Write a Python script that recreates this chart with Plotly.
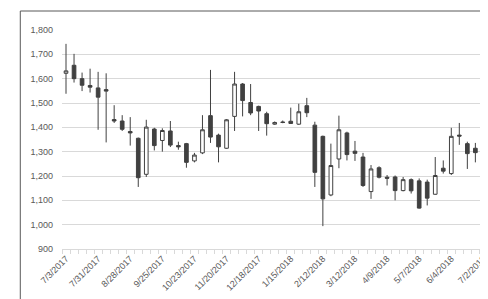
import plotly.graph_objects as go

weeks = ["7/3/2017","7/10/2017","7/17/2017","7/24/2017","7/31/2017","8/7/2017","8/14/2017","8/21/2017",
         "8/28/2017","9/4/2017","9/11/2017","9/18/2017","9/25/2017","10/2/2017","10/9/2017","10/16/2017",
         "10/23/2017","10/30/2017","11/6/2017","11/13/2017","11/20/2017","11/27/2017","12/4/2017","12/11/2017",
         "12/18/2017","12/25/2017","1/1/2018","1/8/2018","1/15/2018","1/22/2018","1/29/2018","2/5/2018",
         "2/12/2018","2/19/2018","2/26/2018","3/5/2018","3/12/2018","3/19/2018","3/26/2018","4/2/2018",
         "4/9/2018","4/16/2018","4/23/2018","4/30/2018","5/7/2018","5/14/2018","5/21/2018","5/28/2018",
         "6/4/2018","6/11/2018","6/18/2018","6/25/2018","7/2/2018"]

open_ = [1622,1655,1600,1572,1562,1555,1432,1426,1383,1355,1207,1393,1346,1385,1325,1333,
         1262,1295,1448,1368,1314,1445,1578,1502,1486,1456,1413,1422,1425,1413,1489,1409,
         1363,1122,1270,1377,1302,1278,1136,1234,1195,1196,1140,1185,1180,1175,1125,1232,
         1210,1368,1333,1314,1300]
close = [1632,1600,1573,1565,1524,1549,1426,1392,1377,1193,1401,1325,1387,1327,1320,1256,
         1286,1390,1360,1320,1431,1578,1510,1459,1467,1415,1420,1420,1416,1464,1460,1215,
         1106,1243,1390,1288,1293,1161,1229,1195,1191,1140,1185,1139,1068,1109,1202,1220,
         1363,1364,1292,1296,1240]
high = [1743,1702,1625,1641,1628,1622,1491,1450,1442,1358,1431,1398,1396,1426,1341,1336,
        1295,1450,1636,1374,1434,1628,1582,1578,1489,1464,1424,1428,1481,1497,1521,1423,
        1366,1333,1448,1382,1344,1295,1245,1240,1204,1202,1196,1190,1190,1185,1278,1264,
        1398,1418,1341,1336,1305]
low = [1538,1584,1549,1543,1390,1338,1418,1385,1325,1155,1196,1305,1300,1319,1308,1234,
       1256,1290,1336,1256,1312,1385,1445,1450,1385,1366,1410,1417,1414,1410,1442,1155,
       994,1117,1232,1264,1262,1155,1106,1190,1161,1100,1137,1128,1066,1079,1123,1210,
       1204,1328,1229,1256,1238]

y_ticks = [900,1000,1100,1200,1300,1400,1500,1600,1700,1800]

x_pos = list(range(len(weeks)))

fig = go.Figure(go.Candlestick(
    x=x_pos, open=open_, high=high, low=low, close=close,
    increasing=dict(fillcolor="white", line=dict(color="#404040", width=1)),
    decreasing=dict(fillcolor="#404040", line=dict(color="#404040", width=1)),
    whiskerwidth=0, hoverinfo="skip"))

OFF = 8  # browser default body margin
W, H = 488 - OFF, 299 - OFF
L, R, T, B = 62 - OFF, 0, 30 - OFF, 50
pw, ph = W - L - R, H - T - B

def px_x(p):
    return (p - OFF - L) / pw

def px_y(p):
    return (H - B - (p - OFF)) / ph

fig.update_layout(
    width=W, height=H,
    margin=dict(l=L, r=R, t=T, b=B, pad=0),
    paper_bgcolor="white", plot_bgcolor="white",
    showlegend=False, boxgap=0.35,
    font=dict(family="Liberation Sans, Arial, sans-serif", size=9, color="#595959"),
    xaxis=dict(range=[-0.5, 52.2], rangeslider=dict(visible=False),
               tickvals=x_pos[::4], ticktext=weeks[::4], tickangle=-45,
               ticklabeloverflow="allow",
               showgrid=False, zeroline=False, showline=True, linecolor="#d9d9d9", linewidth=1,
               ticks="",
               minor=dict(ticks="outside", tick0=-0.5, dtick=1, ticklen=4,
                          tickcolor="#d9d9d9", showgrid=False),
               tickfont=dict(size=9, color="#595959")),
    yaxis=dict(range=[900, 1800], tickvals=y_ticks, tickformat=",d",
               showgrid=True, gridcolor="#d9d9d9", gridwidth=1, zeroline=False,
               showline=False, ticks="", ticklabelstandoff=8,
               tickfont=dict(size=9, color="#595959")),
    shapes=[
        dict(type="line", xref="paper", yref="paper", x0=px_x(20), x1=px_x(500),
             y0=px_y(11), y1=px_y(11), line=dict(color="#595959", width=1)),
        dict(type="line", xref="paper", yref="paper", x0=px_x(20), x1=px_x(20),
             y0=px_y(11), y1=px_y(310), line=dict(color="#595959", width=1)),
    ],
)

fig.write_html("out.html", config=dict(displayModeBar=False))
